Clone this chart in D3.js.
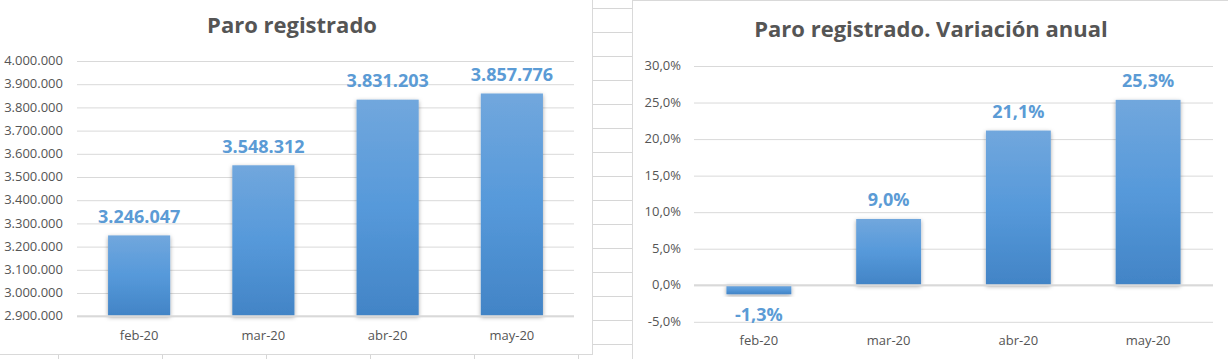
<!DOCTYPE html>
<html><head><meta charset="utf-8">
<script src="https://cdn.jsdelivr.net/npm/d3@7"></script>
<style>
html,body{margin:0;padding:0;background:#fff;}
svg{display:block;font-family:"Open Sans",sans-serif;}
</style></head>
<body><svg id="c" width="1228" height="359"></svg>
<script>
// ---- data ----
const categories = ["feb-20", "mar-20", "abr-20", "may-20"];
const paroValues = [3246047, 3548312, 3831203, 3857776];
const variacionValues = [-1.3, 9.0, 21.1, 25.3];
const paroTicks = [2900000, 3000000, 3100000, 3200000, 3300000, 3400000, 3500000, 3600000, 3700000, 3800000, 3900000, 4000000];
const variacionTicks = [-5, 0, 5, 10, 15, 20, 25, 30];
const titles = ["Paro registrado", "Paro registrado. Variación anual"];

const loc = d3.formatLocale({decimal: ",", thousands: ".", grouping: [3], currency: ["", "€"], minus: "-"});
const fmtInt = loc.format(",d");
const fmtPct = v => loc.format(".1f")(v) + "%";

const svg = d3.select("#c");
const W = 1228, H = 359;

// defs: gradient + shadow
const defs = svg.append("defs");
const g = defs.append("linearGradient").attr("id", "barGrad").attr("x1", 0).attr("y1", 0).attr("x2", 0).attr("y2", 1);
g.append("stop").attr("offset", "0%").attr("stop-color", "#71a7dd");
g.append("stop").attr("offset", "50%").attr("stop-color", "#5699da");
g.append("stop").attr("offset", "100%").attr("stop-color", "#4284c6");
const f = defs.append("filter").attr("id", "shadow").attr("x", "-20%").attr("y", "-20%").attr("width", "140%").attr("height", "140%");
f.append("feDropShadow").attr("dx", 0).attr("dy", 1.5).attr("stdDeviation", 2).attr("flood-color", "#000").attr("flood-opacity", 0.35);

// ---- spreadsheet background ----
const sheet = svg.append("g").attr("stroke", "#d6d6d6").attr("stroke-width", 1);
const rowH = 24, colW = 104;
for (let y = 8; y < H; y += rowH) sheet.append("line").attr("x1", 593).attr("x2", 633).attr("y1", y + 0.5).attr("y2", y + 0.5);
for (let x = 58; x < 593; x += colW) sheet.append("line").attr("x1", x + 0.5).attr("x2", x + 0.5).attr("y1", 355).attr("y2", H);

// panels
svg.append("rect").attr("x", -2).attr("y", -2).attr("width", 594.5).attr("height", 356.5)
  .attr("fill", "#fff").attr("stroke", "#d9d9d9");
svg.append("rect").attr("x", 632.5).attr("y", 0.5).attr("width", 600).attr("height", 400)
  .attr("fill", "#fff").attr("stroke", "#d9d9d9");

function drawChart(opts) {
  const {values, ticks, yDomain, yRange, xRange, tickFmt, labelFmt, tickRight, title, titleX, titleY, catY, baseVal} = opts;
  const x = d3.scaleBand().domain(categories).range(xRange).paddingInner(0.5).paddingOuter(0.25);
  const y = d3.scaleLinear().domain(yDomain).range(yRange);
  const root = svg.append("g");

  // title
  root.append("text").attr("x", titleX).attr("y", titleY).attr("text-anchor", "middle")
    .attr("font-size", 22).attr("font-weight", 700).attr("fill", "#555555").text(title);

  // gridlines
  const grid = root.append("g").attr("transform", `translate(${xRange[0]},0)`)
    .call(d3.axisLeft(y).tickValues(ticks).tickSize(-(xRange[1] - xRange[0])).tickFormat(""));
  grid.select(".domain").remove();
  grid.selectAll(".tick line").attr("stroke", "#d9d9d9").attr("stroke-width", 1)
    .attr("transform", "translate(0,0.5)");

  // tick labels
  root.append("g").selectAll("text").data(ticks).join("text")
    .attr("x", tickRight).attr("y", d => y(d)).attr("dy", "0.36em").attr("text-anchor", "end")
    .attr("font-size", 13).attr("fill", "#555555").text(tickFmt);

  // bars
  const base = y(baseVal);
  root.append("g").selectAll("rect").data(values).join("rect")
    .attr("x", (d, i) => x(categories[i]))
    .attr("y", d => Math.min(y(d), base))
    .attr("width", x.bandwidth())
    .attr("height", d => Math.abs(base - y(d)))
    .attr("fill", "url(#barGrad)").attr("filter", "url(#shadow)");

  // axis baseline
  root.append("line").attr("x1", xRange[0]).attr("x2", xRange[1]).attr("y1", base + 0.5).attr("y2", base + 0.5)
    .attr("stroke", "#d9d9d9").attr("stroke-width", 2);

  // data labels
  root.append("g").selectAll("text").data(values).join("text")
    .attr("x", (d, i) => x(categories[i]) + x.bandwidth() / 2)
    .attr("y", d => d >= baseVal ? y(d) - 12.5 : y(d) + 27)
    .attr("text-anchor", "middle").attr("font-size", 18).attr("font-weight", 700).attr("fill", "#5b9bd5")
    .text(labelFmt);

  // category labels
  root.append("g").selectAll("text").data(categories).join("text")
    .attr("x", d => x(d) + x.bandwidth() / 2).attr("y", catY).attr("text-anchor", "middle")
    .attr("font-size", 13).attr("fill", "#555555").text(d => d);
}

drawChart({
  values: paroValues, ticks: paroTicks, yDomain: [2900000, 4000000], yRange: [315.7, 60.5],
  xRange: [77, 574], tickFmt: fmtInt, labelFmt: fmtInt, tickRight: 63,
  title: titles[0], titleX: 292, titleY: 33, catY: 340, baseVal: 2900000
});
drawChart({
  values: variacionValues, ticks: variacionTicks, yDomain: [-5, 30], yRange: [321.3, 65.5],
  xRange: [694, 1213], tickFmt: fmtPct, labelFmt: fmtPct, tickRight: 681,
  title: titles[1], titleX: 931, titleY: 37, catY: 345, baseVal: 0
});
</script></body></html>
